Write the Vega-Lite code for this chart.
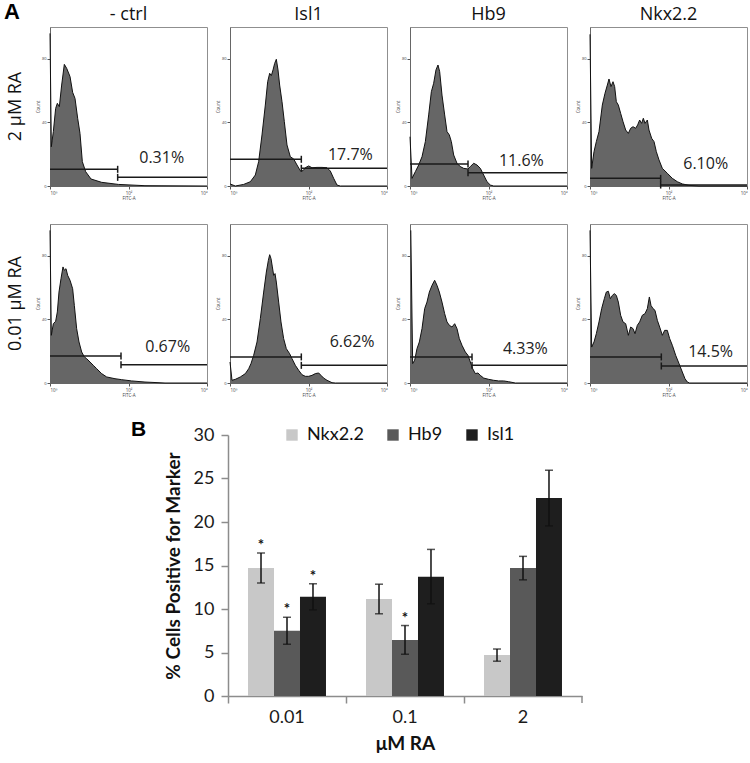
{
"$schema": "https://vega.github.io/schema/vega-lite/v6.json",
"background": "white",
"padding": {"left": 3, "top": 1, "right": 0, "bottom": 0},
"config": {"view": {"stroke": null}, "axis": {"grid": false}, "font": "Open Sans"},
"spacing": 21,
"resolve": {"legend": {"color": "independent"}, "scale": {"color": "independent"}},
"vconcat": [
{
"data": {"values": [
{"col":"- ctrl","row":"2 μM RA","k":"c","x":0,"y":96},{"col":"- ctrl","row":"2 μM RA","k":"c","x":0.034,"y":24.7},{"col":"- ctrl","row":"2 μM RA","k":"c","x":0.085,"y":34.2},{"col":"- ctrl","row":"2 μM RA","k":"c","x":0.144,"y":48.8},{"col":"- ctrl","row":"2 μM RA","k":"c","x":0.187,"y":52},{"col":"- ctrl","row":"2 μM RA","k":"c","x":0.238,"y":49.9},{"col":"- ctrl","row":"2 μM RA","k":"c","x":0.297,"y":63.5},{"col":"- ctrl","row":"2 μM RA","k":"c","x":0.365,"y":76.5},{"col":"- ctrl","row":"2 μM RA","k":"c","x":0.425,"y":74},{"col":"- ctrl","row":"2 μM RA","k":"c","x":0.51,"y":68.8},{"col":"- ctrl","row":"2 μM RA","k":"c","x":0.577,"y":58.9},{"col":"- ctrl","row":"2 μM RA","k":"c","x":0.637,"y":55.1},{"col":"- ctrl","row":"2 μM RA","k":"c","x":0.705,"y":42.6},{"col":"- ctrl","row":"2 μM RA","k":"c","x":0.764,"y":33.1},{"col":"- ctrl","row":"2 μM RA","k":"c","x":0.824,"y":15.3},{"col":"- ctrl","row":"2 μM RA","k":"c","x":0.909,"y":9},{"col":"- ctrl","row":"2 μM RA","k":"c","x":1.045,"y":4.4},{"col":"- ctrl","row":"2 μM RA","k":"c","x":1.316,"y":2.3},{"col":"- ctrl","row":"2 μM RA","k":"c","x":1.741,"y":1},{"col":"- ctrl","row":"2 μM RA","k":"c","x":2.42,"y":0.2},{"col":"- ctrl","row":"2 μM RA","k":"c","x":4,"y":0},
{"col":"- ctrl","row":"2 μM RA","k":"g","x":0,"x2":1.724,"tx":1.724,"y":10.5},{"col":"- ctrl","row":"2 μM RA","k":"g","x":1.724,"x2":4,"tx":1.724,"y":5.45},{"col":"- ctrl","row":"2 μM RA","k":"p","x":2.845,"y":17.4,"t":"0.31%"},
{"col":"Isl1","row":"2 μM RA","k":"c","x":0,"y":1.3},{"col":"Isl1","row":"2 μM RA","k":"c","x":0.136,"y":0},{"col":"Isl1","row":"2 μM RA","k":"c","x":0.348,"y":1},{"col":"Isl1","row":"2 μM RA","k":"c","x":0.518,"y":2.7},{"col":"Isl1","row":"2 μM RA","k":"c","x":0.645,"y":6.9},{"col":"Isl1","row":"2 μM RA","k":"c","x":0.73,"y":15.3},{"col":"Isl1","row":"2 μM RA","k":"c","x":0.815,"y":32.1},{"col":"Isl1","row":"2 μM RA","k":"c","x":0.9,"y":50.9},{"col":"Isl1","row":"2 μM RA","k":"c","x":0.96,"y":65.6},{"col":"Isl1","row":"2 μM RA","k":"c","x":1.011,"y":70.9},{"col":"Isl1","row":"2 μM RA","k":"c","x":1.053,"y":69.4},{"col":"Isl1","row":"2 μM RA","k":"c","x":1.096,"y":73},{"col":"Isl1","row":"2 μM RA","k":"c","x":1.138,"y":77.1},{"col":"Isl1","row":"2 μM RA","k":"c","x":1.18,"y":79.7},{"col":"Isl1","row":"2 μM RA","k":"c","x":1.223,"y":73},{"col":"Isl1","row":"2 μM RA","k":"c","x":1.265,"y":63.5},{"col":"Isl1","row":"2 μM RA","k":"c","x":1.325,"y":53},{"col":"Isl1","row":"2 μM RA","k":"c","x":1.384,"y":40.5},{"col":"Isl1","row":"2 μM RA","k":"c","x":1.452,"y":25.8},{"col":"Isl1","row":"2 μM RA","k":"c","x":1.537,"y":18.4},{"col":"Isl1","row":"2 μM RA","k":"c","x":1.622,"y":17},{"col":"Isl1","row":"2 μM RA","k":"c","x":1.707,"y":13.2},{"col":"Isl1","row":"2 μM RA","k":"c","x":1.792,"y":9.6},{"col":"Isl1","row":"2 μM RA","k":"c","x":1.86,"y":9.6},{"col":"Isl1","row":"2 μM RA","k":"c","x":1.919,"y":11.5},{"col":"Isl1","row":"2 μM RA","k":"c","x":2.004,"y":12.6},{"col":"Isl1","row":"2 μM RA","k":"c","x":2.089,"y":11.5},{"col":"Isl1","row":"2 μM RA","k":"c","x":2.217,"y":11.7},{"col":"Isl1","row":"2 μM RA","k":"c","x":2.344,"y":11.7},{"col":"Isl1","row":"2 μM RA","k":"c","x":2.471,"y":11.5},{"col":"Isl1","row":"2 μM RA","k":"c","x":2.556,"y":9.4},{"col":"Isl1","row":"2 μM RA","k":"c","x":2.641,"y":4.8},{"col":"Isl1","row":"2 μM RA","k":"c","x":2.726,"y":0.6},{"col":"Isl1","row":"2 μM RA","k":"c","x":2.81,"y":0},{"col":"Isl1","row":"2 μM RA","k":"c","x":4,"y":0},
{"col":"Isl1","row":"2 μM RA","k":"g","x":0,"x2":1.817,"tx":1.817,"y":16.8},{"col":"Isl1","row":"2 μM RA","k":"g","x":1.817,"x2":4,"tx":1.817,"y":11.1},{"col":"Isl1","row":"2 μM RA","k":"p","x":3.066,"y":19.5,"t":"17.7%"},
{"col":"Hb9","row":"2 μM RA","k":"c","x":0,"y":31},{"col":"Hb9","row":"2 μM RA","k":"c","x":0.051,"y":4.8},{"col":"Hb9","row":"2 μM RA","k":"c","x":0.136,"y":9},{"col":"Hb9","row":"2 μM RA","k":"c","x":0.221,"y":13.2},{"col":"Hb9","row":"2 μM RA","k":"c","x":0.306,"y":18.4},{"col":"Hb9","row":"2 μM RA","k":"c","x":0.391,"y":27.9},{"col":"Hb9","row":"2 μM RA","k":"c","x":0.476,"y":44.7},{"col":"Hb9","row":"2 μM RA","k":"c","x":0.544,"y":59.3},{"col":"Hb9","row":"2 μM RA","k":"c","x":0.603,"y":64.6},{"col":"Hb9","row":"2 μM RA","k":"c","x":0.662,"y":73},{"col":"Hb9","row":"2 μM RA","k":"c","x":0.713,"y":76.1},{"col":"Hb9","row":"2 μM RA","k":"c","x":0.756,"y":71.9},{"col":"Hb9","row":"2 μM RA","k":"c","x":0.815,"y":57.2},{"col":"Hb9","row":"2 μM RA","k":"c","x":0.883,"y":44.7},{"col":"Hb9","row":"2 μM RA","k":"c","x":0.943,"y":34.2},{"col":"Hb9","row":"2 μM RA","k":"c","x":1.002,"y":32.1},{"col":"Hb9","row":"2 μM RA","k":"c","x":1.053,"y":27.9},{"col":"Hb9","row":"2 μM RA","k":"c","x":1.113,"y":19.5},{"col":"Hb9","row":"2 μM RA","k":"c","x":1.197,"y":14.3},{"col":"Hb9","row":"2 μM RA","k":"c","x":1.282,"y":12.2},{"col":"Hb9","row":"2 μM RA","k":"c","x":1.367,"y":11.1},{"col":"Hb9","row":"2 μM RA","k":"c","x":1.478,"y":10.7},{"col":"Hb9","row":"2 μM RA","k":"c","x":1.537,"y":12.2},{"col":"Hb9","row":"2 μM RA","k":"c","x":1.622,"y":14.3},{"col":"Hb9","row":"2 μM RA","k":"c","x":1.707,"y":13.2},{"col":"Hb9","row":"2 μM RA","k":"c","x":1.792,"y":11.1},{"col":"Hb9","row":"2 μM RA","k":"c","x":1.877,"y":6.9},{"col":"Hb9","row":"2 μM RA","k":"c","x":1.962,"y":2.7},{"col":"Hb9","row":"2 μM RA","k":"c","x":2.047,"y":0.6},{"col":"Hb9","row":"2 μM RA","k":"c","x":2.132,"y":0},{"col":"Hb9","row":"2 μM RA","k":"c","x":4,"y":0},
{"col":"Hb9","row":"2 μM RA","k":"g","x":0,"x2":1.478,"tx":1.478,"y":13.8},{"col":"Hb9","row":"2 μM RA","k":"g","x":1.478,"x2":4,"tx":1.478,"y":8.4},{"col":"Hb9","row":"2 μM RA","k":"p","x":2.837,"y":15.9,"t":"11.6%"},
{"col":"Nkx2.2","row":"2 μM RA","k":"c","x":0,"y":95.4},{"col":"Nkx2.2","row":"2 μM RA","k":"c","x":0.042,"y":11.1},{"col":"Nkx2.2","row":"2 μM RA","k":"c","x":0.102,"y":21.6},{"col":"Nkx2.2","row":"2 μM RA","k":"c","x":0.161,"y":27.9},{"col":"Nkx2.2","row":"2 μM RA","k":"c","x":0.229,"y":34.2},{"col":"Nkx2.2","row":"2 μM RA","k":"c","x":0.314,"y":50.9},{"col":"Nkx2.2","row":"2 μM RA","k":"c","x":0.382,"y":58.3},{"col":"Nkx2.2","row":"2 μM RA","k":"c","x":0.442,"y":63.5},{"col":"Nkx2.2","row":"2 μM RA","k":"c","x":0.484,"y":67.3},{"col":"Nkx2.2","row":"2 μM RA","k":"c","x":0.535,"y":62.5},{"col":"Nkx2.2","row":"2 μM RA","k":"c","x":0.586,"y":65.6},{"col":"Nkx2.2","row":"2 μM RA","k":"c","x":0.628,"y":62.5},{"col":"Nkx2.2","row":"2 μM RA","k":"c","x":0.671,"y":53},{"col":"Nkx2.2","row":"2 μM RA","k":"c","x":0.722,"y":50.9},{"col":"Nkx2.2","row":"2 μM RA","k":"c","x":0.781,"y":45.7},{"col":"Nkx2.2","row":"2 μM RA","k":"c","x":0.841,"y":40.5},{"col":"Nkx2.2","row":"2 μM RA","k":"c","x":0.909,"y":35.2},{"col":"Nkx2.2","row":"2 μM RA","k":"c","x":0.977,"y":33.1},{"col":"Nkx2.2","row":"2 μM RA","k":"c","x":1.036,"y":36.3},{"col":"Nkx2.2","row":"2 μM RA","k":"c","x":1.096,"y":37.3},{"col":"Nkx2.2","row":"2 μM RA","k":"c","x":1.163,"y":36.3},{"col":"Nkx2.2","row":"2 μM RA","k":"c","x":1.214,"y":38.4},{"col":"Nkx2.2","row":"2 μM RA","k":"c","x":1.265,"y":41.5},{"col":"Nkx2.2","row":"2 μM RA","k":"c","x":1.316,"y":39.4},{"col":"Nkx2.2","row":"2 μM RA","k":"c","x":1.359,"y":42.6},{"col":"Nkx2.2","row":"2 μM RA","k":"c","x":1.401,"y":39.4},{"col":"Nkx2.2","row":"2 μM RA","k":"c","x":1.461,"y":41.5},{"col":"Nkx2.2","row":"2 μM RA","k":"c","x":1.503,"y":35.2},{"col":"Nkx2.2","row":"2 μM RA","k":"c","x":1.571,"y":30},{"col":"Nkx2.2","row":"2 μM RA","k":"c","x":1.631,"y":27.9},{"col":"Nkx2.2","row":"2 μM RA","k":"c","x":1.69,"y":21.6},{"col":"Nkx2.2","row":"2 μM RA","k":"c","x":1.758,"y":16.4},{"col":"Nkx2.2","row":"2 μM RA","k":"c","x":1.843,"y":11.1},{"col":"Nkx2.2","row":"2 μM RA","k":"c","x":1.97,"y":8},{"col":"Nkx2.2","row":"2 μM RA","k":"c","x":2.098,"y":4.8},{"col":"Nkx2.2","row":"2 μM RA","k":"c","x":2.225,"y":2.7},{"col":"Nkx2.2","row":"2 μM RA","k":"c","x":2.352,"y":1.3},{"col":"Nkx2.2","row":"2 μM RA","k":"c","x":2.522,"y":0.4},{"col":"Nkx2.2","row":"2 μM RA","k":"c","x":2.777,"y":0},{"col":"Nkx2.2","row":"2 μM RA","k":"c","x":4,"y":0},
{"col":"Nkx2.2","row":"2 μM RA","k":"g","x":0,"x2":1.8,"tx":1.8,"y":4.8},{"col":"Nkx2.2","row":"2 μM RA","k":"g","x":1.8,"x2":4,"tx":1.8,"y":0.6},{"col":"Nkx2.2","row":"2 μM RA","k":"p","x":2.947,"y":13.6,"t":"6.10%"},
{"col":"- ctrl","row":"0.01 μM RA","k":"c","x":0,"y":96},{"col":"- ctrl","row":"0.01 μM RA","k":"c","x":0.034,"y":30},{"col":"- ctrl","row":"0.01 μM RA","k":"c","x":0.085,"y":37.3},{"col":"- ctrl","row":"0.01 μM RA","k":"c","x":0.144,"y":38.8},{"col":"- ctrl","row":"0.01 μM RA","k":"c","x":0.187,"y":44.7},{"col":"- ctrl","row":"0.01 μM RA","k":"c","x":0.229,"y":57.2},{"col":"- ctrl","row":"0.01 μM RA","k":"c","x":0.28,"y":65.6},{"col":"- ctrl","row":"0.01 μM RA","k":"c","x":0.331,"y":73},{"col":"- ctrl","row":"0.01 μM RA","k":"c","x":0.365,"y":70.9},{"col":"- ctrl","row":"0.01 μM RA","k":"c","x":0.408,"y":71.9},{"col":"- ctrl","row":"0.01 μM RA","k":"c","x":0.45,"y":67.7},{"col":"- ctrl","row":"0.01 μM RA","k":"c","x":0.51,"y":64.6},{"col":"- ctrl","row":"0.01 μM RA","k":"c","x":0.577,"y":59.3},{"col":"- ctrl","row":"0.01 μM RA","k":"c","x":0.62,"y":48.8},{"col":"- ctrl","row":"0.01 μM RA","k":"c","x":0.679,"y":34.2},{"col":"- ctrl","row":"0.01 μM RA","k":"c","x":0.739,"y":25.8},{"col":"- ctrl","row":"0.01 μM RA","k":"c","x":0.807,"y":19.5},{"col":"- ctrl","row":"0.01 μM RA","k":"c","x":0.875,"y":16.4},{"col":"- ctrl","row":"0.01 μM RA","k":"c","x":0.934,"y":15.3},{"col":"- ctrl","row":"0.01 μM RA","k":"c","x":1.019,"y":13.2},{"col":"- ctrl","row":"0.01 μM RA","k":"c","x":1.104,"y":11.1},{"col":"- ctrl","row":"0.01 μM RA","k":"c","x":1.189,"y":9},{"col":"- ctrl","row":"0.01 μM RA","k":"c","x":1.316,"y":5.9},{"col":"- ctrl","row":"0.01 μM RA","k":"c","x":1.444,"y":3.8},{"col":"- ctrl","row":"0.01 μM RA","k":"c","x":1.656,"y":2.7},{"col":"- ctrl","row":"0.01 μM RA","k":"c","x":1.826,"y":2.1},{"col":"- ctrl","row":"0.01 μM RA","k":"c","x":2.081,"y":1.3},{"col":"- ctrl","row":"0.01 μM RA","k":"c","x":2.42,"y":0.6},{"col":"- ctrl","row":"0.01 μM RA","k":"c","x":2.93,"y":0},{"col":"- ctrl","row":"0.01 μM RA","k":"c","x":4,"y":0},
{"col":"- ctrl","row":"0.01 μM RA","k":"g","x":0,"x2":1.809,"tx":1.809,"y":17},{"col":"- ctrl","row":"0.01 μM RA","k":"g","x":1.809,"x2":4,"tx":1.809,"y":11.5},{"col":"- ctrl","row":"0.01 μM RA","k":"p","x":2.998,"y":22.6,"t":"0.67%"},
{"col":"Isl1","row":"0.01 μM RA","k":"c","x":0,"y":13.2},{"col":"Isl1","row":"0.01 μM RA","k":"c","x":0.051,"y":1.7},{"col":"Isl1","row":"0.01 μM RA","k":"c","x":0.136,"y":2.3},{"col":"Isl1","row":"0.01 μM RA","k":"c","x":0.263,"y":3.8},{"col":"Isl1","row":"0.01 μM RA","k":"c","x":0.391,"y":5.9},{"col":"Isl1","row":"0.01 μM RA","k":"c","x":0.476,"y":9},{"col":"Isl1","row":"0.01 μM RA","k":"c","x":0.535,"y":12.2},{"col":"Isl1","row":"0.01 μM RA","k":"c","x":0.603,"y":17.4},{"col":"Isl1","row":"0.01 μM RA","k":"c","x":0.688,"y":25.8},{"col":"Isl1","row":"0.01 μM RA","k":"c","x":0.773,"y":40.5},{"col":"Isl1","row":"0.01 μM RA","k":"c","x":0.858,"y":57.2},{"col":"Isl1","row":"0.01 μM RA","k":"c","x":0.926,"y":69.8},{"col":"Isl1","row":"0.01 μM RA","k":"c","x":0.977,"y":77.1},{"col":"Isl1","row":"0.01 μM RA","k":"c","x":1.011,"y":80.7},{"col":"Isl1","row":"0.01 μM RA","k":"c","x":1.045,"y":78.2},{"col":"Isl1","row":"0.01 μM RA","k":"c","x":1.079,"y":73},{"col":"Isl1","row":"0.01 μM RA","k":"c","x":1.113,"y":67.7},{"col":"Isl1","row":"0.01 μM RA","k":"c","x":1.147,"y":68.8},{"col":"Isl1","row":"0.01 μM RA","k":"c","x":1.18,"y":63.5},{"col":"Isl1","row":"0.01 μM RA","k":"c","x":1.24,"y":50.9},{"col":"Isl1","row":"0.01 μM RA","k":"c","x":1.299,"y":38.4},{"col":"Isl1","row":"0.01 μM RA","k":"c","x":1.367,"y":27.9},{"col":"Isl1","row":"0.01 μM RA","k":"c","x":1.435,"y":21.6},{"col":"Isl1","row":"0.01 μM RA","k":"c","x":1.52,"y":18.4},{"col":"Isl1","row":"0.01 μM RA","k":"c","x":1.58,"y":15.3},{"col":"Isl1","row":"0.01 μM RA","k":"c","x":1.665,"y":11.1},{"col":"Isl1","row":"0.01 μM RA","k":"c","x":1.749,"y":8},{"col":"Isl1","row":"0.01 μM RA","k":"c","x":1.834,"y":5.2},{"col":"Isl1","row":"0.01 μM RA","k":"c","x":1.919,"y":4.2},{"col":"Isl1","row":"0.01 μM RA","k":"c","x":2.004,"y":4.2},{"col":"Isl1","row":"0.01 μM RA","k":"c","x":2.089,"y":4.8},{"col":"Isl1","row":"0.01 μM RA","k":"c","x":2.174,"y":5.9},{"col":"Isl1","row":"0.01 μM RA","k":"c","x":2.259,"y":6.3},{"col":"Isl1","row":"0.01 μM RA","k":"c","x":2.318,"y":4.8},{"col":"Isl1","row":"0.01 μM RA","k":"c","x":2.386,"y":3.1},{"col":"Isl1","row":"0.01 μM RA","k":"c","x":2.471,"y":1.7},{"col":"Isl1","row":"0.01 μM RA","k":"c","x":2.599,"y":0.2},{"col":"Isl1","row":"0.01 μM RA","k":"c","x":2.684,"y":0},{"col":"Isl1","row":"0.01 μM RA","k":"c","x":4,"y":0},
{"col":"Isl1","row":"0.01 μM RA","k":"g","x":0,"x2":1.817,"tx":1.817,"y":16.4},{"col":"Isl1","row":"0.01 μM RA","k":"g","x":1.817,"x2":4,"tx":1.817,"y":11.1},{"col":"Isl1","row":"0.01 μM RA","k":"p","x":3.11,"y":25.8,"t":"6.62%"},
{"col":"Hb9","row":"0.01 μM RA","k":"c","x":0.02,"y":96},{"col":"Hb9","row":"0.01 μM RA","k":"c","x":0.068,"y":12.2},{"col":"Hb9","row":"0.01 μM RA","k":"c","x":0.119,"y":14.3},{"col":"Hb9","row":"0.01 μM RA","k":"c","x":0.178,"y":21.6},{"col":"Hb9","row":"0.01 μM RA","k":"c","x":0.238,"y":25.8},{"col":"Hb9","row":"0.01 μM RA","k":"c","x":0.306,"y":34.2},{"col":"Hb9","row":"0.01 μM RA","k":"c","x":0.374,"y":46.8},{"col":"Hb9","row":"0.01 μM RA","k":"c","x":0.433,"y":50.9},{"col":"Hb9","row":"0.01 μM RA","k":"c","x":0.493,"y":57.2},{"col":"Hb9","row":"0.01 μM RA","k":"c","x":0.561,"y":61.4},{"col":"Hb9","row":"0.01 μM RA","k":"c","x":0.628,"y":64.6},{"col":"Hb9","row":"0.01 μM RA","k":"c","x":0.688,"y":61.4},{"col":"Hb9","row":"0.01 μM RA","k":"c","x":0.747,"y":57.2},{"col":"Hb9","row":"0.01 μM RA","k":"c","x":0.815,"y":50.9},{"col":"Hb9","row":"0.01 μM RA","k":"c","x":0.883,"y":43.6},{"col":"Hb9","row":"0.01 μM RA","k":"c","x":0.943,"y":38.4},{"col":"Hb9","row":"0.01 μM RA","k":"c","x":1.002,"y":36.3},{"col":"Hb9","row":"0.01 μM RA","k":"c","x":1.07,"y":35.2},{"col":"Hb9","row":"0.01 μM RA","k":"c","x":1.138,"y":37.3},{"col":"Hb9","row":"0.01 μM RA","k":"c","x":1.197,"y":34.2},{"col":"Hb9","row":"0.01 μM RA","k":"c","x":1.257,"y":27.9},{"col":"Hb9","row":"0.01 μM RA","k":"c","x":1.325,"y":23.7},{"col":"Hb9","row":"0.01 μM RA","k":"c","x":1.41,"y":19.5},{"col":"Hb9","row":"0.01 μM RA","k":"c","x":1.478,"y":17.4},{"col":"Hb9","row":"0.01 μM RA","k":"c","x":1.537,"y":13.2},{"col":"Hb9","row":"0.01 μM RA","k":"c","x":1.597,"y":9},{"col":"Hb9","row":"0.01 μM RA","k":"c","x":1.665,"y":5.9},{"col":"Hb9","row":"0.01 μM RA","k":"c","x":1.732,"y":6.3},{"col":"Hb9","row":"0.01 μM RA","k":"c","x":1.792,"y":4.8},{"col":"Hb9","row":"0.01 μM RA","k":"c","x":1.877,"y":3.1},{"col":"Hb9","row":"0.01 μM RA","k":"c","x":2.004,"y":2.3},{"col":"Hb9","row":"0.01 μM RA","k":"c","x":2.132,"y":1.7},{"col":"Hb9","row":"0.01 μM RA","k":"c","x":2.259,"y":1.3},{"col":"Hb9","row":"0.01 μM RA","k":"c","x":2.386,"y":1.3},{"col":"Hb9","row":"0.01 μM RA","k":"c","x":2.514,"y":0.8},{"col":"Hb9","row":"0.01 μM RA","k":"c","x":2.684,"y":0},{"col":"Hb9","row":"0.01 μM RA","k":"c","x":4,"y":0},
{"col":"Hb9","row":"0.01 μM RA","k":"g","x":0,"x2":1.58,"tx":1.58,"y":16.4},{"col":"Hb9","row":"0.01 μM RA","k":"g","x":1.58,"x2":4,"tx":1.58,"y":11.1},{"col":"Hb9","row":"0.01 μM RA","k":"p","x":2.938,"y":21.2,"t":"4.33%"},
{"col":"Nkx2.2","row":"0.01 μM RA","k":"c","x":0,"y":96},{"col":"Nkx2.2","row":"0.01 μM RA","k":"c","x":0.042,"y":22.6},{"col":"Nkx2.2","row":"0.01 μM RA","k":"c","x":0.102,"y":25.8},{"col":"Nkx2.2","row":"0.01 μM RA","k":"c","x":0.161,"y":31},{"col":"Nkx2.2","row":"0.01 μM RA","k":"c","x":0.229,"y":38.4},{"col":"Nkx2.2","row":"0.01 μM RA","k":"c","x":0.297,"y":46.8},{"col":"Nkx2.2","row":"0.01 μM RA","k":"c","x":0.365,"y":53},{"col":"Nkx2.2","row":"0.01 μM RA","k":"c","x":0.416,"y":57.2},{"col":"Nkx2.2","row":"0.01 μM RA","k":"c","x":0.467,"y":57.7},{"col":"Nkx2.2","row":"0.01 μM RA","k":"c","x":0.518,"y":53},{"col":"Nkx2.2","row":"0.01 μM RA","k":"c","x":0.569,"y":55.1},{"col":"Nkx2.2","row":"0.01 μM RA","k":"c","x":0.62,"y":56.2},{"col":"Nkx2.2","row":"0.01 μM RA","k":"c","x":0.671,"y":55.1},{"col":"Nkx2.2","row":"0.01 μM RA","k":"c","x":0.722,"y":50.9},{"col":"Nkx2.2","row":"0.01 μM RA","k":"c","x":0.781,"y":42.6},{"col":"Nkx2.2","row":"0.01 μM RA","k":"c","x":0.841,"y":38.4},{"col":"Nkx2.2","row":"0.01 μM RA","k":"c","x":0.909,"y":37.3},{"col":"Nkx2.2","row":"0.01 μM RA","k":"c","x":0.977,"y":30},{"col":"Nkx2.2","row":"0.01 μM RA","k":"c","x":1.036,"y":35.2},{"col":"Nkx2.2","row":"0.01 μM RA","k":"c","x":1.096,"y":34.2},{"col":"Nkx2.2","row":"0.01 μM RA","k":"c","x":1.147,"y":31},{"col":"Nkx2.2","row":"0.01 μM RA","k":"c","x":1.206,"y":36.3},{"col":"Nkx2.2","row":"0.01 μM RA","k":"c","x":1.265,"y":38.4},{"col":"Nkx2.2","row":"0.01 μM RA","k":"c","x":1.333,"y":42.6},{"col":"Nkx2.2","row":"0.01 μM RA","k":"c","x":1.401,"y":43.6},{"col":"Nkx2.2","row":"0.01 μM RA","k":"c","x":1.461,"y":46.8},{"col":"Nkx2.2","row":"0.01 μM RA","k":"c","x":1.512,"y":54.1},{"col":"Nkx2.2","row":"0.01 μM RA","k":"c","x":1.554,"y":48.8},{"col":"Nkx2.2","row":"0.01 μM RA","k":"c","x":1.605,"y":46.8},{"col":"Nkx2.2","row":"0.01 μM RA","k":"c","x":1.656,"y":45.7},{"col":"Nkx2.2","row":"0.01 μM RA","k":"c","x":1.716,"y":39.4},{"col":"Nkx2.2","row":"0.01 μM RA","k":"c","x":1.775,"y":35.2},{"col":"Nkx2.2","row":"0.01 μM RA","k":"c","x":1.843,"y":30},{"col":"Nkx2.2","row":"0.01 μM RA","k":"c","x":1.902,"y":33.1},{"col":"Nkx2.2","row":"0.01 μM RA","k":"c","x":1.97,"y":33.1},{"col":"Nkx2.2","row":"0.01 μM RA","k":"c","x":2.03,"y":27.9},{"col":"Nkx2.2","row":"0.01 μM RA","k":"c","x":2.098,"y":23.7},{"col":"Nkx2.2","row":"0.01 μM RA","k":"c","x":2.183,"y":17.4},{"col":"Nkx2.2","row":"0.01 μM RA","k":"c","x":2.268,"y":12.2},{"col":"Nkx2.2","row":"0.01 μM RA","k":"c","x":2.352,"y":6.9},{"col":"Nkx2.2","row":"0.01 μM RA","k":"c","x":2.42,"y":2.7},{"col":"Nkx2.2","row":"0.01 μM RA","k":"c","x":2.48,"y":0.6},{"col":"Nkx2.2","row":"0.01 μM RA","k":"c","x":2.539,"y":0},{"col":"Nkx2.2","row":"0.01 μM RA","k":"c","x":4,"y":0},
{"col":"Nkx2.2","row":"0.01 μM RA","k":"g","x":0,"x2":1.817,"tx":1.817,"y":16.4},{"col":"Nkx2.2","row":"0.01 μM RA","k":"g","x":1.817,"x2":4,"tx":1.817,"y":10.7},{"col":"Nkx2.2","row":"0.01 μM RA","k":"p","x":3.074,"y":19.5,"t":"14.5%"}
]},
"title": {"text": "A", "anchor": "start", "frame": "bounds", "font": "Liberation Sans", "fontSize": 22, "fontWeight": "bold", "color": "#000", "offset": 0, "dy": 18, "dx": -3},
"facet": {
"column": {"field": "col", "type": "nominal", "sort": ["- ctrl", "Isl1", "Hb9", "Nkx2.2"], "title": null, "header": {"labelFontSize": 18, "labelFont": "Open Sans", "labelColor": "#111", "labelPadding": 2}},
"row": {"field": "row", "type": "nominal", "sort": ["2 μM RA", "0.01 μM RA"], "title": null, "header": {"labelFontSize": 18, "labelFont": "Open Sans", "labelColor": "#111", "labelAngle": -90, "labelOrient": "left", "labelPadding": 0}}
},
"spacing": {"column": 4, "row": 22},
"resolve": {"axis": {"x": "independent", "y": "independent"}},
"spec": {
"width": 157, "height": 159,
"view": {"stroke": "#8f8f8f"},
"layer": [
{"transform": [{"filter": "datum.k == 'c'"}],
 "mark": {"type": "area", "color": "#666666", "opacity": 1, "line": {"color": "#111", "strokeWidth": 1}},
 "encoding": {
  "x": {"field": "x", "type": "quantitative", "title": "FITC-A", "scale": {"domain": [0, 4], "nice": false},
        "axis": {"values": [0, 1, 2, 3, 4], "labelExpr": "'10' + ['⁰','¹','²','³','⁴'][datum.value]", "labelFontSize": 4.5, "labelColor": "#444", "titleFontSize": 4.5, "titleColor": "#444", "titleFontWeight": "normal", "titlePadding": 1, "labelPadding": 1, "tickSize": 3, "tickColor": "#555", "domainColor": "#666", "labelFlush": true}},
  "y": {"field": "y", "type": "quantitative", "title": "Count", "scale": {"domain": [0, 100], "nice": false},
        "axis": {"values": [0, 20, 40, 60, 80, 100], "labelFontSize": 4, "labelColor": "#444", "titleFontSize": 4.5, "titleColor": "#444", "titleFontWeight": "normal", "titlePadding": 1, "labelPadding": 1, "tickSize": 3, "tickColor": "#555", "domainColor": "#666", "labelFlush": false}}
 }},
{"transform": [{"filter": "datum.k == 'g'"}],
 "mark": {"type": "rule", "color": "#1a1a1a", "strokeWidth": 1.5},
 "encoding": {"x": {"field": "x", "type": "quantitative", "title": "FITC-A"}, "x2": {"field": "x2"}, "y": {"field": "y", "type": "quantitative", "title": "Count"}}},
{"transform": [{"filter": "datum.k == 'g'"}],
 "mark": {"type": "point", "shape": "M0,-1L0,1", "size": 49, "color": "#1a1a1a", "strokeWidth": 1.5, "opacity": 1, "filled": false},
 "encoding": {"x": {"field": "tx", "type": "quantitative", "title": "FITC-A"}, "y": {"field": "y", "type": "quantitative", "title": "Count"}}},
{"transform": [{"filter": "datum.k == 'p'"}],
 "mark": {"type": "text", "font": "Open Sans", "fontSize": 16, "color": "#222", "baseline": "middle", "align": "center"},
 "encoding": {"x": {"field": "x", "type": "quantitative", "title": "FITC-A"}, "y": {"field": "y", "type": "quantitative", "title": "Count"}, "text": {"field": "t"}}}
]
}
},
{
"spacing": 0,
"resolve": {"legend": {"color": "independent"}, "scale": {"color": "independent"}},
"hconcat": [
{"width": 81, "height": 10, "data": {"values": [{"a": 1}]}, "mark": {"type": "point", "opacity": 0}, "encoding": {}},
{
"data": {"values": [
{"ra":"0.01","marker":"Nkx2.2","v":14.7,"lo":13.0,"hi":16.45,"star":true},
{"ra":"0.01","marker":"Hb9","v":7.5,"lo":5.95,"hi":9.05,"star":true},
{"ra":"0.01","marker":"Isl1","v":11.4,"lo":9.9,"hi":12.9,"star":true},
{"ra":"0.1","marker":"Nkx2.2","v":11.15,"lo":9.45,"hi":12.85,"star":false},
{"ra":"0.1","marker":"Hb9","v":6.45,"lo":4.8,"hi":8.1,"star":true},
{"ra":"0.1","marker":"Isl1","v":13.7,"lo":10.6,"hi":16.85,"star":false},
{"ra":"2","marker":"Nkx2.2","v":4.7,"lo":4.0,"hi":5.4,"star":false},
{"ra":"2","marker":"Hb9","v":14.7,"lo":13.35,"hi":16.05,"star":false},
{"ra":"2","marker":"Isl1","v":22.75,"lo":19.55,"hi":25.95,"star":false}
]},
"width": 354, "height": 261,
"title": {"text": "B", "anchor": "start", "frame": "bounds", "font": "Liberation Sans", "fontSize": 21, "fontWeight": "bold", "color": "#000", "offset": 0, "dy": 14, "dx": -33},
"layer": [
{"mark": {"type": "bar"},
 "encoding": {
  "x": {"field": "ra", "type": "nominal", "sort": ["0.01", "0.1", "2"], "title": "μM RA", "scale": {"paddingInner": 0, "paddingOuter": 0},
        "axis": {"labelAngle": 0, "bandPosition": 0, "tickSize": 7, "labelPadding": 5, "labelFont": "Lato", "labelFontSize": 18, "labelColor": "#1a1a1a", "domainColor": "#8c8c8c", "tickColor": "#8c8c8c", "domainWidth": 1.5, "tickWidth": 1.5, "titleFont": "Lato", "titleFontSize": 19, "titleFontWeight": "bold", "titleColor": "#111", "titlePadding": 8}},
  "xOffset": {"field": "marker", "type": "nominal", "sort": ["Nkx2.2", "Hb9", "Isl1"], "scale": {"paddingInner": 0, "paddingOuter": 0.77}},
  "y": {"field": "v", "type": "quantitative", "title": "% Cells Positive for Marker", "scale": {"domain": [0, 30], "nice": false},
        "axis": {"values": [0, 5, 10, 15, 20, 25, 30], "tickSize": 7, "labelPadding": 7, "labelFont": "Lato", "labelFontSize": 18, "labelColor": "#1a1a1a", "domainColor": "#8c8c8c", "tickColor": "#8c8c8c", "domainWidth": 1.5, "tickWidth": 1.5, "titleFont": "Lato", "titleFontSize": 19, "titleFontWeight": "bold", "titleColor": "#111", "titlePadding": 10}},
  "color": {"field": "marker", "type": "nominal", "sort": ["Nkx2.2", "Hb9", "Isl1"], "scale": {"domain": ["Nkx2.2", "Hb9", "Isl1"], "range": ["#c8c8c8", "#595959", "#1e1e1e"]},
            "legend": {"orient": "none", "legendX": 55, "legendY": -9, "direction": "horizontal", "title": null, "symbolType": "square", "symbolSize": 130, "symbolStrokeWidth": 0, "symbolOpacity": 1, "labelFont": "Lato", "labelFontSize": 18, "labelColor": "#111", "columnPadding": 20, "labelOffset": 6}}
 }},
{"mark": {"type": "rule", "color": "#111", "strokeWidth": 1.5},
 "encoding": {
  "x": {"field": "ra", "type": "nominal", "sort": ["0.01", "0.1", "2"], "title": "μM RA"},
  "xOffset": {"field": "marker", "type": "nominal", "sort": ["Nkx2.2", "Hb9", "Isl1"]},
  "y": {"field": "lo", "type": "quantitative", "title": "% Cells Positive for Marker"}, "y2": {"field": "hi"}}},
{"mark": {"type": "tick", "color": "#111", "size": 8, "thickness": 1.5},
 "encoding": {
  "x": {"field": "ra", "type": "nominal", "sort": ["0.01", "0.1", "2"], "title": "μM RA"},
  "xOffset": {"field": "marker", "type": "nominal", "sort": ["Nkx2.2", "Hb9", "Isl1"]},
  "y": {"field": "lo", "type": "quantitative", "title": "% Cells Positive for Marker"}}},
{"mark": {"type": "tick", "color": "#111", "size": 8, "thickness": 1.5},
 "encoding": {
  "x": {"field": "ra", "type": "nominal", "sort": ["0.01", "0.1", "2"], "title": "μM RA"},
  "xOffset": {"field": "marker", "type": "nominal", "sort": ["Nkx2.2", "Hb9", "Isl1"]},
  "y": {"field": "hi", "type": "quantitative", "title": "% Cells Positive for Marker"}}},
{"transform": [{"filter": "datum.star"}],
 "mark": {"type": "text", "text": "*", "font": "Lato", "fontSize": 15, "fontWeight": "bold", "color": "#111", "baseline": "alphabetic", "dy": -3},
 "encoding": {
  "x": {"field": "ra", "type": "nominal", "sort": ["0.01", "0.1", "2"], "title": "μM RA"},
  "xOffset": {"field": "marker", "type": "nominal", "sort": ["Nkx2.2", "Hb9", "Isl1"]},
  "y": {"field": "hi", "type": "quantitative", "title": "% Cells Positive for Marker"}}},
{"data": {"values": [{"e": 1}]},
 "mark": {"type": "rule", "color": "#8c8c8c", "strokeWidth": 1.5, "y2Offset": 7},
 "encoding": {"x": {"datum": "2", "type": "nominal", "bandPosition": 1}, "y": {"datum": 0, "type": "quantitative"}, "y2": {"datum": 0}}}
]
}
]
}
]
}
